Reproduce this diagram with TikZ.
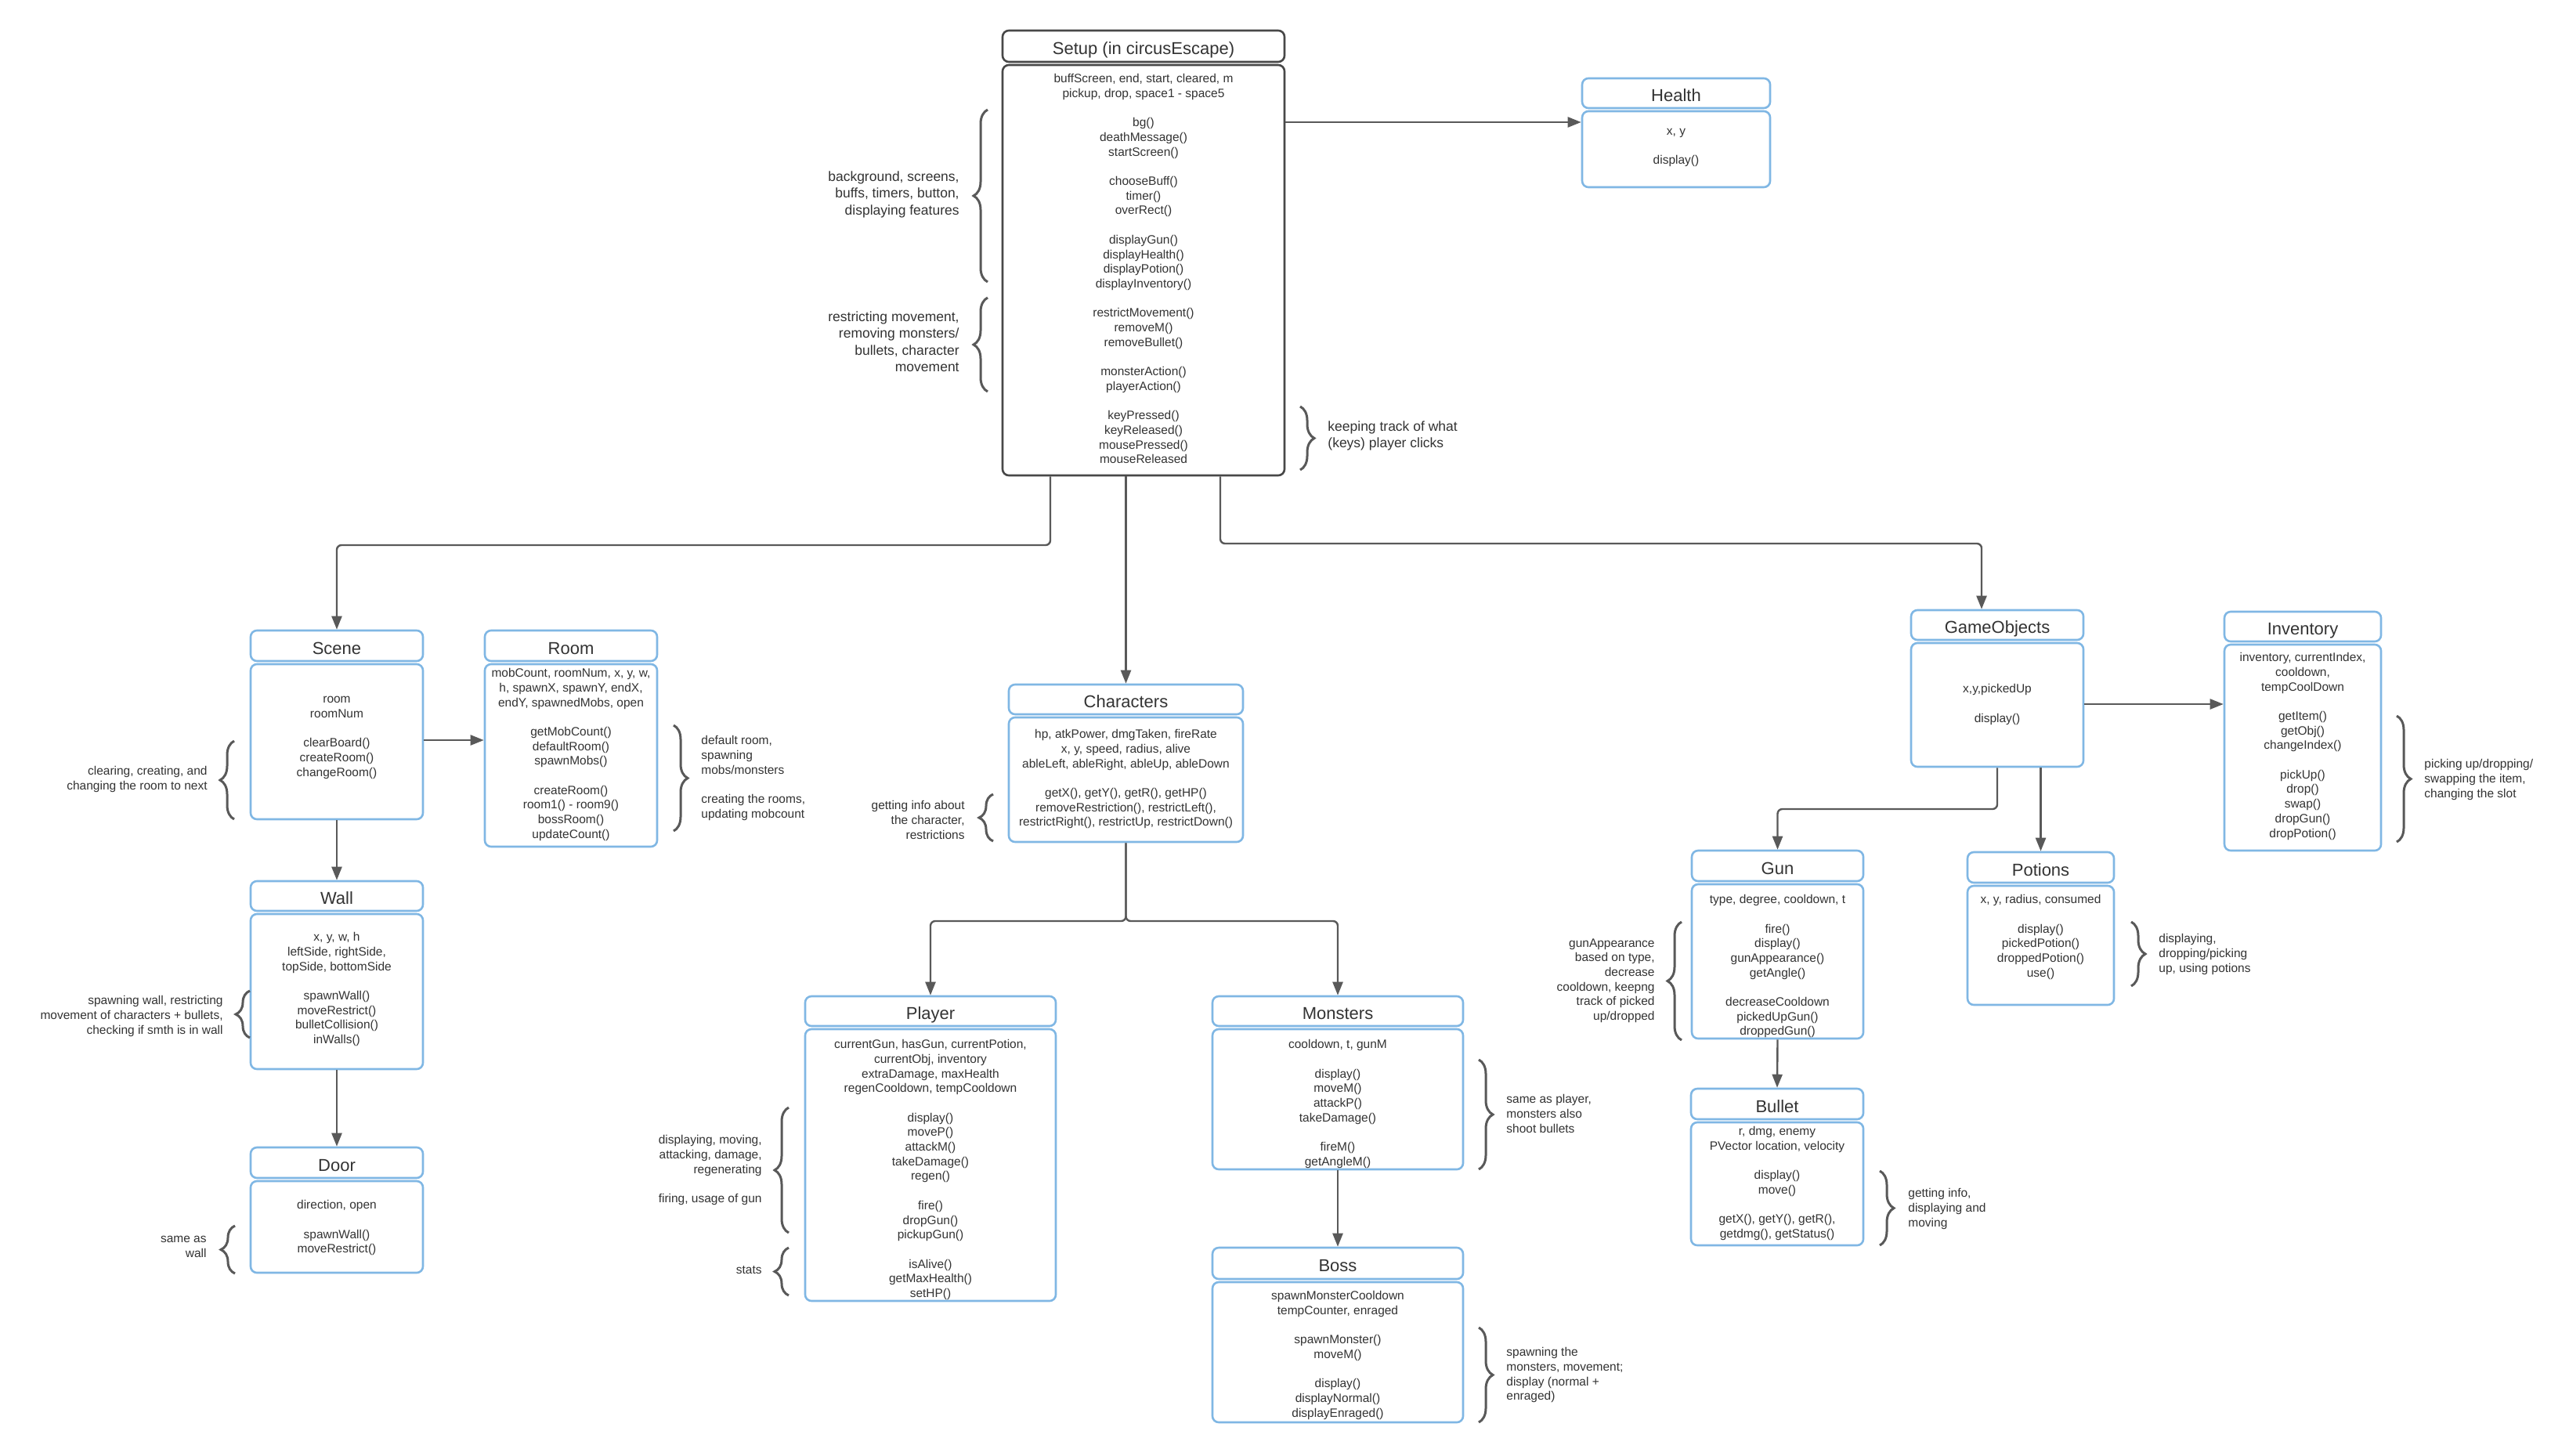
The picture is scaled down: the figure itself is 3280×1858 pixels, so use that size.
\documentclass[tikz,border=0pt]{standalone}
\usepackage{fontspec}
\setmainfont{Liberation Sans}
\usetikzlibrary{arrows.meta,decorations.pathreplacing}
\definecolor{bluebd}{RGB}{128,183,228}
\definecolor{darkbd}{RGB}{72,72,72}
\definecolor{txt}{RGB}{51,51,51}
\definecolor{linec}{RGB}{89,89,89}
\newcommand{\bl}{\\[9.35pt]}
\tikzset{
  boxst/.style={draw=#1, line width=1.3pt, rounded corners=4pt, fill=white, inner sep=0pt, text=txt},
  ttl/.style={font=\fontsize{11pt}{13pt}\selectfont, text height=1.05em, text depth=0pt},
  bodytxt/.style={inner sep=0pt, align=center, text=txt, font=\fontsize{7.75pt}{9.35pt}\selectfont, anchor=north, yshift=-1pt},
  annl/.style={inner sep=0pt, align=right, text=txt, font=\fontsize{7.75pt}{9.35pt}\selectfont, anchor=north east, yshift=-0.5pt},
  annr/.style={inner sep=0pt, align=left, text=txt, font=\fontsize{7.75pt}{9.35pt}\selectfont, anchor=north west, yshift=-0.5pt},
  annbigl/.style={inner sep=0pt, align=right, text=txt, font=\fontsize{8.75pt}{10.75pt}\selectfont, anchor=north east},
  annbigr/.style={inner sep=0pt, align=left, text=txt, font=\fontsize{8.75pt}{10.75pt}\selectfont, anchor=north west},
  conn/.style={draw=linec, line width=1.2pt, -{Triangle[length=8.5pt,width=6.5pt]}},
  elbow/.style={rounded corners=3pt},
  brc/.style={draw=linec, line width=1.5pt, decorate, decoration={brace, amplitude=9pt}},
}
% #1 colour, #2 name, #3 xl, #4 xr, #5 y top, #6 y header bottom, #7 y bottom, #8 title
\newcommand{\ubox}[8]{%
  \node[boxst=#1, ttl, minimum width={(#4-#3)*0.5pt}, minimum height={(#6-#5)*0.5pt}] (#2H) at ({(#3+#4)/2},{(#5+#6)/2}) {#8};
  \node[boxst=#1, minimum width={(#4-#3)*0.5pt}, minimum height={(#7-#6-4)*0.5pt}] (#2) at ({(#3+#4)/2},{(#6+4+#7)/2}) {};
}
\begin{document}
\begin{tikzpicture}[x=0.5pt,y=-0.5pt]
\fill[white] (0,0) rectangle (3280,1858);
\useasboundingbox (0,0) rectangle (3280,1858);

% boxes
\ubox{darkbd}{setup}{1280}{1640}{39}{79}{607}{Setup (in circusEscape)}
\ubox{bluebd}{health}{2020}{2260}{100}{138}{239}{Health}
\ubox{bluebd}{scene}{320}{540}{805}{844}{1046}{Scene}
\ubox{bluebd}{room}{619}{839}{805}{844}{1081}{Room}
\ubox{bluebd}{wall}{320}{540}{1125}{1163}{1365}{Wall}
\ubox{bluebd}{door}{320}{540}{1465}{1504}{1625}{Door}
\ubox{bluebd}{chars}{1288}{1587}{874}{912}{1075}{Characters}
\ubox{bluebd}{player}{1028}{1348}{1272}{1310}{1661}{Player}
\ubox{bluebd}{monsters}{1548}{1868}{1272}{1310}{1493}{Monsters}
\ubox{bluebd}{boss}{1548}{1868}{1593}{1633}{1816}{Boss}
\ubox{bluebd}{gobj}{2440}{2660}{779}{817}{979}{GameObjects}
\ubox{bluebd}{inv}{2840}{3040}{781}{819}{1086}{Inventory}
\ubox{bluebd}{gun}{2160}{2379}{1086}{1125}{1326}{Gun}
\ubox{bluebd}{pot}{2512}{2699}{1088}{1127}{1283}{Potions}
\ubox{bluebd}{bullet}{2159}{2379}{1390}{1429}{1590}{Bullet}

% body texts
\node[bodytxt] (setupX) at (1460,92) {buffScreen, end, start, cleared, m\\pickup, drop, space1 - space5\bl bg()\\deathMessage()\\startScreen()\bl chooseBuff()\\timer()\\overRect()\bl displayGun()\\displayHealth()\\displayPotion()\\displayInventory()\bl restrictMovement()\\removeM()\\removeBullet()\bl monsterAction()\\playerAction()\bl keyPressed()\\keyReleased()\\mousePressed()\\mouseReleased};
\node[bodytxt] (healthX) at (2140,162) {x, y\bl display()};
\node[bodytxt] (sceneX) at (430,887) {room\\roomNum\bl clearBoard()\\createRoom()\\changeRoom()};
\node[bodytxt] (roomX) at (729,851) {mobCount, roomNum, x, y, w,\\h, spawnX, spawnY, endX,\\endY, spawnedMobs, open\bl getMobCount()\\defaultRoom()\\spawnMobs()\bl createRoom()\\room1() - room9()\\bossRoom()\\updateCount()};
\node[bodytxt] (wallX) at (430,1188) {x, y, w, h\\leftSide, rightSide,\\topSide, bottomSide\bl spawnWall()\\moveRestrict()\\bulletCollision()\\inWalls()};
\node[bodytxt] (doorX) at (430,1530) {direction, open\bl spawnWall()\\moveRestrict()};
\node[bodytxt] (charsX) at (1437.5,929) {hp, atkPower, dmgTaken, fireRate\\x, y, speed, radius, alive\\ableLeft, ableRight, ableUp, ableDown\bl getX(), getY(), getR(), getHP()\\removeRestriction(), restrictLeft(),\\restrictRight(), restrictUp, restrictDown()};
\node[bodytxt] (playerX) at (1188,1325) {currentGun, hasGun, currentPotion,\\currentObj, inventory\\extraDamage, maxHealth\\regenCooldown, tempCooldown\bl display()\\moveP()\\attackM()\\takeDamage()\\regen()\bl fire()\\dropGun()\\pickupGun()\bl isAlive()\\getMaxHealth()\\setHP()};
\node[bodytxt] (monstersX) at (1708,1325) {cooldown, t, gunM\bl display()\\moveM()\\attackP()\\takeDamage()\bl fireM()\\getAngleM()};
\node[bodytxt] (bossX) at (1708,1646) {spawnMonsterCooldown\\tempCounter, enraged\bl spawnMonster()\\moveM()\bl display()\\displayNormal()\\displayEnraged()};
\node[bodytxt] (gobjX) at (2550,871) {x,y,pickedUp\bl display()};
\node[bodytxt] (invX) at (2940,831) {inventory, currentIndex,\\cooldown,\\tempCoolDown\bl getItem()\\getObj()\\changeIndex()\bl pickUp()\\drop()\\swap()\\dropGun()\\dropPotion()};
\node[bodytxt] (gunX) at (2269.5,1140) {type, degree, cooldown, t\bl fire()\\display()\\gunAppearance()\\getAngle()\bl decreaseCooldown\\pickedUpGun()\\droppedGun()};
\node[bodytxt] (potX) at (2605.5,1140) {x, y, radius, consumed\bl display()\\pickedPotion()\\droppedPotion()\\use()};
\node[bodytxt] (bulletX) at (2269,1436) {r, dmg, enemy\\PVector location, velocity\bl display()\\move()\bl getX(), getY(), getR(),\\getdmg(), getStatus()};

% connectors
\draw[conn] (setup.east |- 0,156) -- (health.west |- 0,156);
\draw[conn,elbow] (setup.south -| 1341,0) |- (sceneH.north |- 0,696) -- (sceneH.north);
\draw[conn] (setup.south -| charsH.north) -- (charsH.north);
\draw[conn,elbow] (setup.south -| 1558,0) |- (2530,694) -- (gobjH.north -| 2530,0);
\draw[conn] (scene.east |- 0,945) -- (room.west |- 0,945);
\draw[conn] (scene.south) -- (wallH.north);
\draw[conn] (wall.south) -- (doorH.north);
\draw[conn,elbow] (chars.south) |- (playerH.north |- 0,1176) -- (playerH.north);
\draw[conn,elbow] (chars.south) |- (monstersH.north |- 0,1176) -- (monstersH.north);
\draw[conn] (monsters.south) -- (bossH.north);
\draw[conn] (gobj.east |- 0,899) -- (inv.west |- 0,899);
\draw[conn,elbow] (gobj.south) |- (gunH.north |- 0,1033) -- (gunH.north);
\draw[conn] (gobj.south -| potH.north) -- (potH.north);
\draw[conn] (gun.south) -- (bulletH.north);

% braces
\draw[brc] (1261,360) -- (1261,140);
\draw[brc] (1261,500) -- (1261,380);
\draw[brc] (1660,519) -- (1660,600);
\draw[brc] (299,1046) -- (299,946);
\draw[brc] (860,926) -- (860,1061);
\draw[brc] (319,1325) -- (319,1265);
\draw[brc] (300,1626) -- (300,1565);
\draw[brc] (1268,1074) -- (1268,1014);
\draw[brc] (1007,1574) -- (1007,1414);
\draw[brc] (1007,1654) -- (1007,1593);
\draw[brc] (1888,1353) -- (1888,1493);
\draw[brc] (1888,1695) -- (1888,1816);
\draw[brc] (3060,914) -- (3060,1075);
\draw[brc] (2147,1328) -- (2147,1177);
\draw[brc] (2721,1177) -- (2721,1259);
\draw[brc] (2400,1495) -- (2400,1590);

% annotations
\node[annbigl] (a1) at (1225,218) {background, screens,\\buffs, timers, button,\\displaying features};
\node[annbigl] (a2) at (1225,397) {restricting movement,\\removing monsters/\\bullets, character\\movement};
\node[annbigr] (a3) at (1695,537) {keeping track of what\\(keys) player clicks};
\node[annl] (a4) at (265,977) {clearing, creating, and\\changing the room to next};
\node[annr] (a5) at (895,938) {default room,\\spawning\\mobs/monsters\bl creating the rooms,\\updating mobcount};
\node[annl] (a6) at (285,1270) {spawning wall, restricting\\movement of characters + bullets,\\checking if smth is in wall};
\node[annl] (a7) at (264,1577) {same as\\wall};
\node[annl] (a8) at (1232,1021) {getting info about\\the character,\\restrictions};
\node[annl] (a9) at (973,1448) {displaying, moving,\\attacking, damage,\\regenerating\bl firing, usage of gun};
\node[annl] (a10) at (973,1615) {stats};
\node[annr] (a11) at (1923,1396) {same as player,\\monsters also\\shoot bullets};
\node[annr] (a12) at (1923,1719) {spawning the\\monsters, movement;\\display (normal +\\enraged)};
\node[annr] (a13) at (3095,968) {picking up/dropping/\\swapping the item,\\changing the slot};
\node[annl] (a14) at (2113,1197) {gunAppearance\\based on type,\\decrease\\cooldown, keepng\\track of picked\\up/dropped};
\node[annr] (a15) at (2756,1191) {displaying,\\dropping/picking\\up, using potions};
\node[annr] (a16) at (2436,1516) {getting info,\\displaying and\\moving};
\end{tikzpicture}
\end{document}
